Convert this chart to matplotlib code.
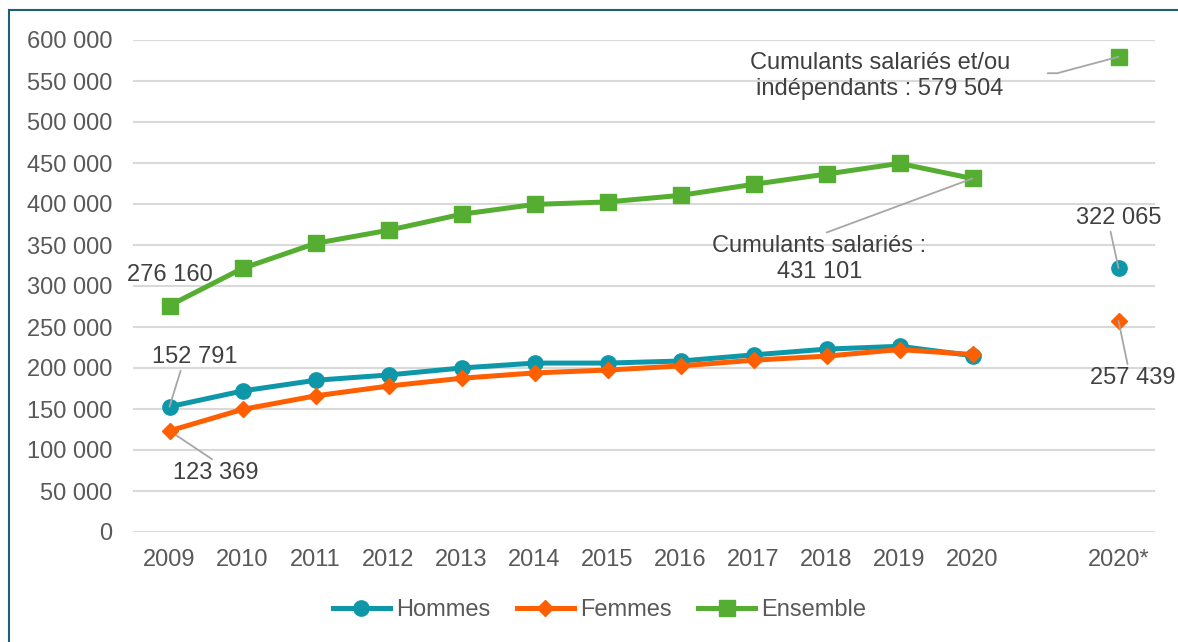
import matplotlib.pyplot as plt
from matplotlib.lines import Line2D
import numpy as np

# ----------------------------------- Data -----------------------------------
years = ["2009", "2010", "2011", "2012", "2013", "2014", "2015", "2016",
         "2017", "2018", "2019", "2020", "", "2020*"]

hommes = [152791, 172000, 185000, 191500, 200000, 206000, 206000, 208500,
          216000, 223000, 226500, 215000]
femmes = [123369, 149500, 166000, 178000, 187500, 194000, 197500, 202500,
          209500, 214500, 222500, 216500]
ensemble = [276160, 321500, 352000, 368000, 387500, 399500, 402500, 410500,
            424000, 436500, 449500, 431101]

hommes_star = 322065
femmes_star = 257439
ensemble_star = 579504

yticks = np.arange(0, 600001, 50000)

# ----------------------------------- Plotting -----------------------------------
plt.rcParams['font.family'] = ['Liberation Sans', 'DejaVu Sans']

c_h = '#0E97A8'
c_f = '#FF5F00'
c_e = '#55AE32'
txt = '#404040'
lead = '#A6A6A6'

fig = plt.figure(figsize=(11.78, 6.42), dpi=100)
ax = fig.add_axes([133 / 1178, 1 - 532 / 642, (1155 - 133) / 1178, (532 - 40) / 642])

x = np.arange(len(hommes))
x_star = len(years) - 1

ax.plot(x, hommes, color=c_h, lw=3.6, marker='o', ms=11, label="Hommes", zorder=3,
        clip_on=False)
ax.plot(x, femmes, color=c_f, lw=3.6, marker='D', ms=8.5, label="Femmes", zorder=4,
        clip_on=False)
ax.plot(x, ensemble, color=c_e, lw=3.6, marker='s', ms=12, label="Ensemble", zorder=3,
        clip_on=False)

ax.plot([x_star], [hommes_star], color=c_h, marker='o', ms=11, ls='none', zorder=3)
ax.plot([x_star], [femmes_star], color=c_f, marker='D', ms=8.5, ls='none', zorder=3)
ax.plot([x_star], [ensemble_star], color=c_e, marker='s', ms=12, ls='none', zorder=3,
        clip_on=False)

ax.set_xlim(-0.5, len(years) - 0.5)
ax.set_ylim(0, 600000)
ax.set_xticks(np.arange(len(years)))
ax.set_xticklabels(years)
ax.set_yticks(yticks)
ax.set_yticklabels([f"{v:,}".replace(",", " ") for v in yticks])
ax.tick_params(length=0, labelsize=17, labelcolor='#595959')
ax.tick_params(axis='y', pad=15)
ax.tick_params(axis='x', pad=12)
ax.grid(axis='y', color='#D9D9D9', lw=1.5, zorder=0)
ax.set_axisbelow(True)
for s in ax.spines.values():
    s.set_visible(False)

def fmt(v):
    return f"{v:,}".replace(",", " ")

lp = dict(arrowstyle='-', color=lead, lw=1.3, shrinkA=0, shrinkB=0)

ax.text(0, 314000, fmt(ensemble[0]), ha='center', va='center', fontsize=17, color=txt)
ax.annotate(fmt(hommes[0]), xy=(0, hommes[0]), xytext=(0.34, 213500),
            ha='center', va='center', fontsize=17, color=txt,
            arrowprops=dict(lp, relpos=(0.35, 0.0)))
ax.annotate(fmt(femmes[0]), xy=(0, femmes[0]), xytext=(0.64, 72000),
            ha='center', va='center', fontsize=17, color=txt,
            arrowprops=dict(lp, relpos=(0.5, 1.0)))
ax.annotate("Cumulants salariés :\n" + fmt(ensemble[-1]), xy=(11, ensemble[-1]),
            xytext=(8.9, 333000), ha='center', va='center', fontsize=17, color=txt,
            linespacing=1.2, arrowprops=dict(lp, relpos=(0.5, 1.0)))
ax.text(9.73, 556000, "Cumulants salariés et/ou\nindépendants : " + fmt(ensemble_star),
        ha='center', va='center', fontsize=17, color=txt, linespacing=1.2)
ax.annotate("", xy=(x_star, ensemble_star), xytext=(12.03, 559500),
            arrowprops=dict(lp, connectionstyle="angle,angleA=0,angleB=15,rad=0"))
ax.annotate(fmt(hommes_star), xy=(x_star, hommes_star), xytext=(13.0, 383000),
            ha='center', va='center', fontsize=17, color=txt,
            arrowprops=dict(lp, relpos=(0.4, 0.0)))
ax.annotate(fmt(femmes_star), xy=(x_star, femmes_star), xytext=(13.19, 188000),
            ha='center', va='center', fontsize=17, color=txt,
            arrowprops=dict(lp, relpos=(0.45, 1.0)))

fig.legend(*ax.get_legend_handles_labels(), loc='center', bbox_to_anchor=(0.509, 0.05),
           ncol=3, frameon=False, fontsize=17, labelcolor='#595959',
           handlelength=2.4, handletextpad=0.25, columnspacing=1.15)

# frame on left and top
fig.add_artist(Line2D([9 / 1178, 9 / 1178], [0, 1 - 10 / 642], color='#1B5F78', lw=1.5))
fig.add_artist(Line2D([9 / 1178, 1], [1 - 10 / 642, 1 - 10 / 642], color='#1B5F78', lw=1.5))

fig.savefig('out.png', dpi=100)
